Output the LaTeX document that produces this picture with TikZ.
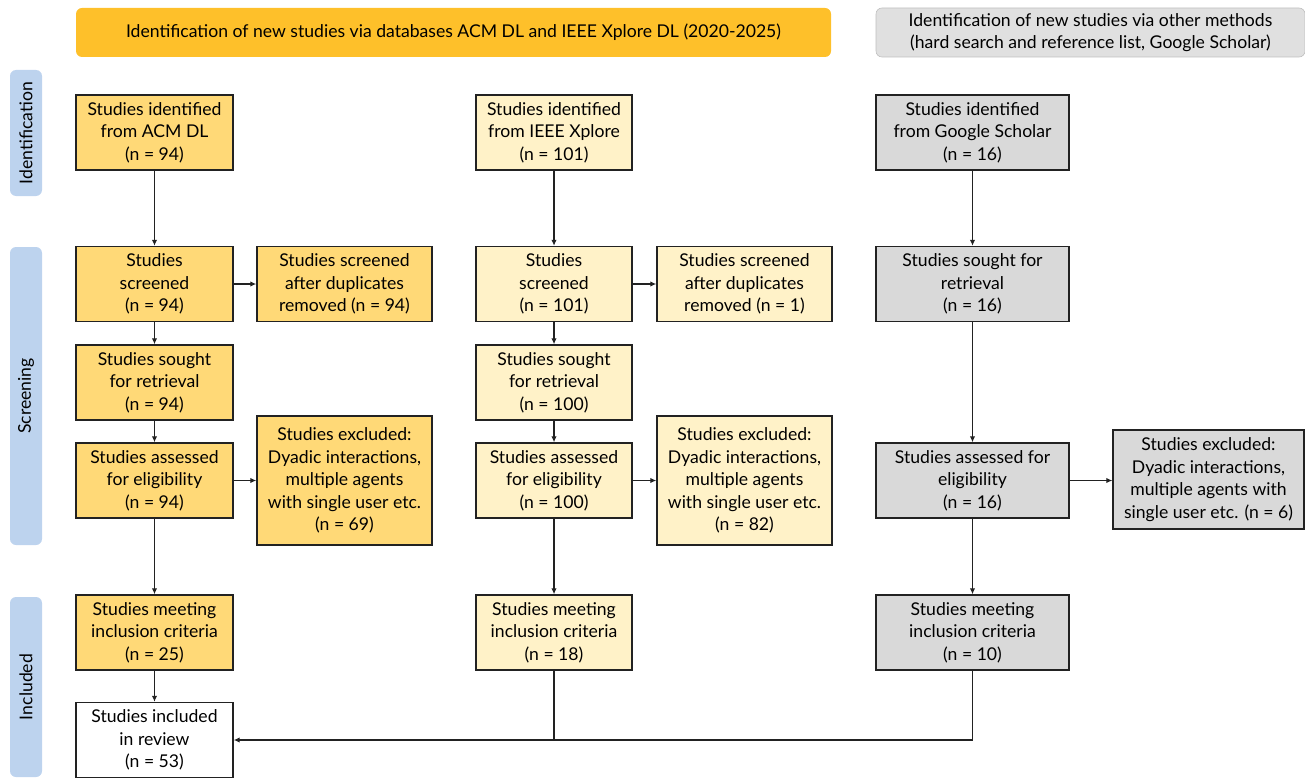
\documentclass[tikz,border=0pt]{standalone}
\usepackage{fontspec}
\setmainfont{Lato}
\usetikzlibrary{arrows.meta}
\definecolor{hdrorange}{HTML}{FEC02A}
\definecolor{hdrgray}{HTML}{E0E0E0}
\definecolor{cola}{HTML}{FFD977}
\definecolor{colb}{HTML}{FFF2C8}
\definecolor{colc}{HTML}{D9D9D9}
\definecolor{sideblue}{HTML}{BDD3EE}
\definecolor{edge}{HTML}{222222}
\tikzset{
  box/.style={draw=edge, line width=1.4pt, rectangle, inner sep=0pt, align=center,
    font=\fontsize{17.6}{22.5}\selectfont, text=black},
  hdr/.style={rounded corners=6pt, inner sep=0pt, align=center,
    font=\fontsize{17.6}{22.5}\selectfont},
  side/.style={rounded corners=6pt, fill=sideblue, inner sep=0pt, rotate=90,
    minimum height=32pt, font=\fontsize{17.6}{20}\selectfont},
  conn/.style={draw=edge, line width=1.4pt},
  arr/.style={conn, -{Latex[length=6pt,width=5.5pt]}}
}
\begin{document}
\begin{tikzpicture}[x=1pt,y=-1pt]
\useasboundingbox (0,0) rectangle (1305,778);
% headers
\node[hdr, fill=hdrorange, minimum width=755pt, minimum height=49pt] (h1) at (453.5,32.5)
  {Identification of new studies via databases ACM DL and IEEE Xplore DL (2020-2025)};
\node[hdr, fill=hdrgray, draw=white!75!black, line width=0.6pt, minimum width=429pt, minimum height=49pt] (h2) at (1090.5,32.5)
  {Identification of new studies via other methods\\(hard search and reference list, Google Scholar)};
% side labels
\node[side, minimum width=126pt] (s1) at (26,133) {Identification};
\node[side, minimum width=298pt] (s2) at (26,396) {Screening};
\node[side, minimum width=180pt] (s3) at (26,687) {Included};
% column 1
\tikzset{ca/.style={box, fill=cola, minimum width=157pt, minimum height=75pt}}
\node[ca] (a1) at (154.5,132.5) {Studies identified\\from ACM DL\\(n = 94)};
\node[ca] (a2) at (154.5,284) {Studies\\screened\\(n = 94)};
\node[ca] (a3) at (154.5,382.5) {Studies sought\\for retrieval\\(n = 94)};
\node[ca] (a4) at (154.5,480.5) {Studies assessed\\for eligibility\\(n = 94)};
\node[ca] (a5) at (154.5,632.5) {Studies meeting\\inclusion criteria\\(n = 25)};
\node[box, fill=white, minimum width=157pt, minimum height=75pt] (r) at (154.5,740) {Studies included\\in review\\(n = 53)};
\node[box, fill=cola, minimum width=175pt, minimum height=75pt] (ad) at (344.5,284) {Studies screened\\after duplicates\\removed (n = 94)};
\node[box, fill=cola, minimum width=175pt, minimum height=129pt] (ae) at (344.5,480.5) {Studies excluded:\\Dyadic interactions,\\multiple agents\\with single user etc.\\(n = 69)};
% column 2
\tikzset{cb/.style={box, fill=colb, minimum width=156pt, minimum height=75pt}}
\node[cb] (b1) at (554,132.5) {Studies identified\\from IEEE Xplore\\(n = 101)};
\node[cb] (b2) at (554,284) {Studies\\screened\\(n = 101)};
\node[cb] (b3) at (554,382.5) {Studies sought\\for retrieval\\(n = 100)};
\node[cb] (b4) at (554,480.5) {Studies assessed\\for eligibility\\(n = 100)};
\node[cb] (b5) at (554,632.5) {Studies meeting\\inclusion criteria\\(n = 18)};
\node[box, fill=colb, minimum width=175pt, minimum height=75pt] (bd) at (744.5,284) {Studies screened\\after duplicates\\removed (n = 1)};
\node[box, fill=colb, minimum width=175pt, minimum height=129pt] (be) at (744.5,480.5) {Studies excluded:\\Dyadic interactions,\\multiple agents\\with single user etc.\\(n = 82)};
% column 3
\tikzset{cc/.style={box, fill=colc, minimum width=193pt, minimum height=75pt}}
\node[cc] (c1) at (972.5,132.5) {Studies identified\\from Google Scholar\\(n = 16)};
\node[cc] (c2) at (972.5,284) {Studies sought for\\retrieval\\(n = 16)};
\node[cc] (c3) at (972.5,480.5) {Studies assessed for\\eligibility\\(n = 16)};
\node[cc] (c4) at (972.5,632.5) {Studies meeting\\inclusion criteria\\(n = 10)};
\node[box, fill=colc, minimum width=191pt, minimum height=99pt] (ce) at (1208.5,479.5) {Studies excluded:\\Dyadic interactions,\\multiple agents with\\single user etc. (n = 6)};
% connectors column 1
\draw[arr] (a1) -- (a2);
\draw[arr] (a2) -- (a3);
\draw[arr] (a3) -- (a4);
\draw[arr] (a4) -- (a5);
\draw[arr] (a5) -- (r);
\draw[arr] (a2.east) -- (a2.east -| ad.west);
\draw[arr] (a4.east) -- (a4.east -| ae.west);
% column 2
\draw[arr] (b1) -- (b2);
\draw[arr] (b2) -- (b3);
\draw[arr] (b3) -- (b4);
\draw[arr] (b4) -- (b5);
\draw[arr] (b2.east) -- (b2.east -| bd.west);
\draw[arr] (b4.east) -- (b4.east -| be.west);
\draw[conn] (b5.south) -- (b5.south |- r.east);
% column 3
\draw[arr] (c1) -- (c2);
\draw[arr] (c2) -- (c3);
\draw[arr] (c3) -- (c4);
\draw[arr] (c3.east) -- (c3.east -| ce.west);
\draw[arr] (c4.south) |- (r.east);
\end{tikzpicture}
\end{document}
